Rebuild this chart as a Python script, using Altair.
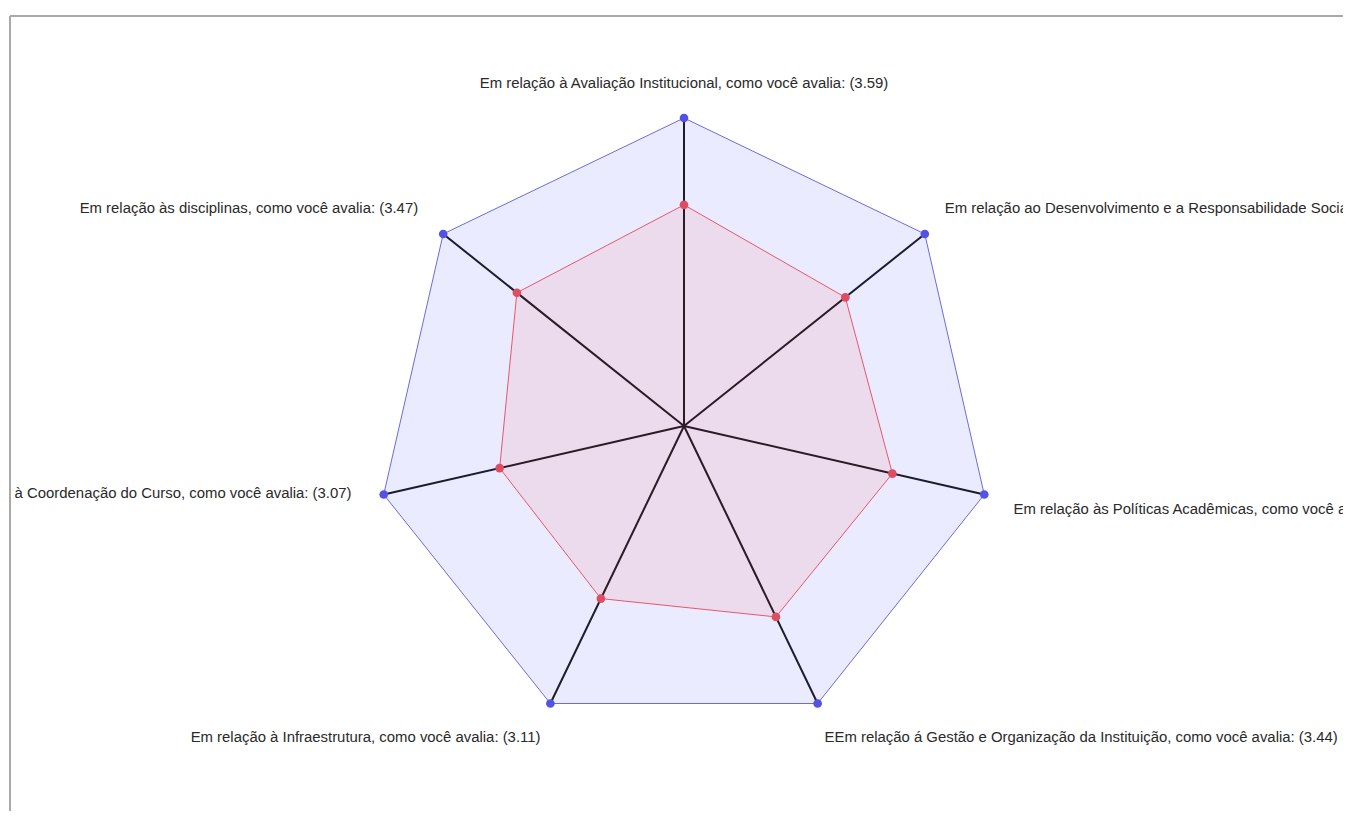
import math
import altair as alt
import pandas as pd

# ---- data ----
questions = [
    "Em relação à Avaliação Institucional, como você avalia",
    "Em relação ao Desenvolvimento e a Responsabilidade Social, como você avalia",
    "Em relação às Políticas Acadêmicas, como você avalia",
    "EEm relação á Gestão e Organização da Instituição, como você avalia",
    "Em relação à Infraestrutura, como você avalia",
    "Em relação à Coordenação do Curso, como você avalia",
    "Em relação às disciplinas, como você avalia",
]
scores = [3.59, 3.35, 3.47, 3.44, 3.11, 3.07, 3.47]
max_score = 5.0
label_radius = 5.52

# ---- layout (plot area in px) ----
W, H = 1333, 795
CX, CY = 674, 410          # centre of the radar inside the plot area
PX_PER_UNIT = 61.6
XMIN, XMAX = -CX / PX_PER_UNIT, (W - CX) / PX_PER_UNIT
YMAX, YMIN = CY / PX_PER_UNIT, -(H - CY) / PX_PER_UNIT

# label nudges (style only, pixels) per axis index
label_nudge = [(0, -2), (-5, -5), (-2, 8), (-7, 6), (4, 6), (-1, -8), (0, -5)]

n = len(questions)
rows = []
for i, (q, s) in enumerate(zip(questions, scores)):
    a = 2 * math.pi * i / n
    sx, cy = math.sin(a), math.cos(a)
    if abs(sx) < 1e-6:
        side = "center"
    elif sx > 0:
        side = "left"
    else:
        side = "right"
    rows.append({
        "idx": i,
        "ox": max_score * sx, "oy": max_score * cy,
        "ix": s * sx, "iy": s * cy,
        "lx": label_radius * sx, "ly": label_radius * cy,
        "cx": 0.0, "cy": 0.0,
        "label": f"{q}: ({s:.2f})",
        "side": side,
    })
df = pd.DataFrame(rows)

xs = alt.Scale(domain=[XMIN, XMAX], nice=False, zero=False)
ys = alt.Scale(domain=[YMIN, YMAX], nice=False, zero=False)

base = alt.Chart(df)

outer_poly = base.mark_line(
    interpolate="linear-closed", fill="#0000ff", fillOpacity=0.08,
    stroke="#6b6bde", strokeWidth=1,
).encode(
    x=alt.X("ox:Q", scale=xs, axis=None),
    y=alt.Y("oy:Q", scale=ys, axis=None),
    order=alt.Order("idx:Q"),
)

spokes = base.mark_rule(color="#1c1c2a", strokeWidth=2).encode(
    x=alt.X("cx:Q", scale=xs, axis=None),
    y=alt.Y("cy:Q", scale=ys, axis=None),
    x2="ox:Q",
    y2="oy:Q",
)

inner_poly = base.mark_line(
    interpolate="linear-closed", fill="#ff0000", fillOpacity=0.07,
    stroke="#e8576b", strokeWidth=1,
).encode(
    x=alt.X("ix:Q", scale=xs, axis=None),
    y=alt.Y("iy:Q", scale=ys, axis=None),
    order=alt.Order("idx:Q"),
)

outer_pts = base.mark_circle(size=75, color="#5252e6", opacity=1).encode(
    x=alt.X("ox:Q", scale=xs, axis=None),
    y=alt.Y("oy:Q", scale=ys, axis=None),
)

inner_pts = base.mark_circle(size=75, color="#de4d61", opacity=1).encode(
    x=alt.X("ix:Q", scale=xs, axis=None),
    y=alt.Y("iy:Q", scale=ys, axis=None),
)

label_layers = []
for i in range(n):
    side = rows[i]["side"]
    dx, dy = label_nudge[i]
    label_layers.append(
        base.transform_filter(alt.datum.idx == i).mark_text(
            align=side, baseline="middle", fontSize=14.9, dx=dx, dy=dy,
            font="Liberation Sans", color="#2a2a2a", clip=True,
        ).encode(
            x=alt.X("lx:Q", scale=xs, axis=None),
            y=alt.Y("ly:Q", scale=ys, axis=None),
            text="label:N",
        )
    )

border_src = alt.Chart(pd.DataFrame({"k": [0]}))
border_top = border_src.mark_rule(color="#a9a9a9", strokeWidth=2).encode(
    x=alt.value(0), x2=alt.value(W), y=alt.value(0)
)
border_left = border_src.mark_rule(color="#a9a9a9", strokeWidth=2).encode(
    x=alt.value(0), y=alt.value(0), y2=alt.value(H)
)

chart = alt.layer(
    outer_poly, spokes, inner_poly, outer_pts, inner_pts,
    *label_layers,
    border_top, border_left,
).properties(
    width=W, height=H,
    autosize=alt.AutoSizeParams(type="none"),
    padding={"left": 2, "top": 8, "right": 0, "bottom": 0},
    background="white",
).configure_view(stroke=None)

chart.save("out.html", embed_options={"renderer": "svg", "actions": False})
